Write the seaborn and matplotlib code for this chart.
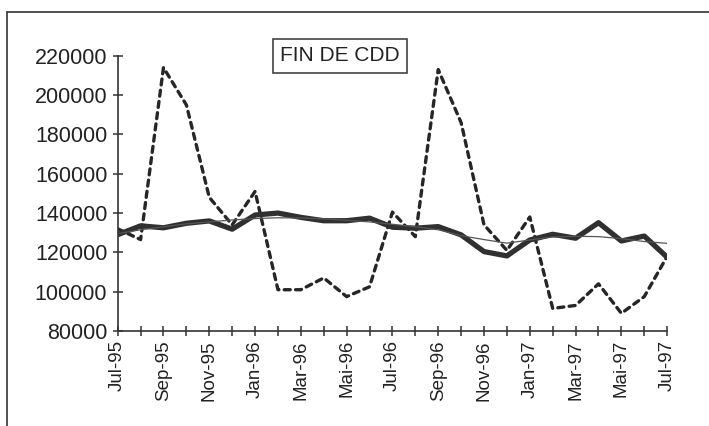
import numpy as np
import pandas as pd
import seaborn as sns
import matplotlib.pyplot as plt
from matplotlib.lines import Line2D

months = ["Jul-95", "Aug-95", "Sep-95", "Oct-95", "Nov-95", "Dec-95",
          "Jan-96", "Feb-96", "Mar-96", "Apr-96", "Mai-96", "Jun-96",
          "Jul-96", "Aug-96", "Sep-96", "Oct-96", "Nov-96", "Dec-96",
          "Jan-97", "Feb-97", "Mar-97", "Apr-97", "Mai-97", "Jun-97",
          "Jul-97"]

# thick line
fin_cdd = [129000, 133500, 132500, 134800, 136000, 131800, 139000, 140000,
           137800, 136100, 136100, 137400, 132800, 132300, 133100, 128900,
           120400, 118200, 126300, 129200, 127200, 135100, 125800, 128300,
           117500]

# dotted line
fin_cdd_brut = [132000, 126500, 214000, 195000, 148000, 134000, 151000,
                101000, 101000, 107000, 97500, 102500, 140500, 128000,
                213000, 186000, 134000, 121000, 138000, 91500, 93000,
                104000, 89000, 97500, 118000]

# thin trend line
tendance = [129500, 131500, 133000, 134500, 135500, 136500, 137200, 137600,
            137500, 137000, 136300, 135500, 134300, 133000, 131500, 128500,
            126500, 124700, 126300, 127800, 128200, 128000, 127000, 125500,
            124600]

df = pd.DataFrame({"idx": np.arange(len(months)), "month": months,
                   "cvs": fin_cdd, "brut": fin_cdd_brut, "trend": tendance})

sns.set_theme(style="white")
plt.rcParams["font.family"] = ["Liberation Sans", "DejaVu Sans"]

fig = plt.figure(figsize=(7.09, 4.26), dpi=100)
ax = fig.add_axes([0.166, 0.223, 0.775, 0.646])

ink = "#262626"
sns.lineplot(data=df, x="idx", y="brut", ax=ax, color=ink, lw=2.4,
             linestyle=(0, (1.8, 1.6)), dash_capstyle="round")
sns.lineplot(data=df, x="idx", y="cvs", ax=ax, color="#303030", lw=3.8)
sns.lineplot(data=df, x="idx", y="trend", ax=ax, color="#555555", lw=0.9)

ax.set_xlim(0, len(months) - 1)
ax.set_ylim(80000, 220000)
ax.set_yticks(range(80000, 220001, 20000))
ax.set_yticklabels([str(v) for v in range(80000, 220001, 20000)],
                   fontsize=15.5, color="#222222")
ax.set_xticks(df.idx)
ax.set_xticklabels([m if i % 2 == 0 else "" for i, m in enumerate(months)],
                   rotation=90, fontsize=13.5, color="#222222")
ax.tick_params(axis="both", direction="inout", length=7, width=1.1,
               color="#333333", bottom=True, left=True)
ax.tick_params(axis="y", pad=4)
ax.tick_params(axis="x", pad=3)
ax.set_xlabel("")
ax.set_ylabel("")
sns.despine(ax=ax)
for s in ["left", "bottom"]:
    ax.spines[s].set_color("#333333")
    ax.spines[s].set_linewidth(1.2)

ax.text(0.405, 1.0, "FIN DE CDD", transform=ax.transAxes, ha="center",
        va="center", fontsize=15, color="#222222",
        bbox=dict(boxstyle="square,pad=0.35", fc="white", ec="#333333", lw=1.1))

# outer frame (left and top edges)
fig.add_artist(Line2D([0.010, 0.010], [0.0, 0.972], transform=fig.transFigure,
                      color="#333333", lw=1.2))
fig.add_artist(Line2D([0.010, 1.0], [0.972, 0.972], transform=fig.transFigure,
                      color="#333333", lw=1.2))

fig.savefig("out.png", dpi=100)
